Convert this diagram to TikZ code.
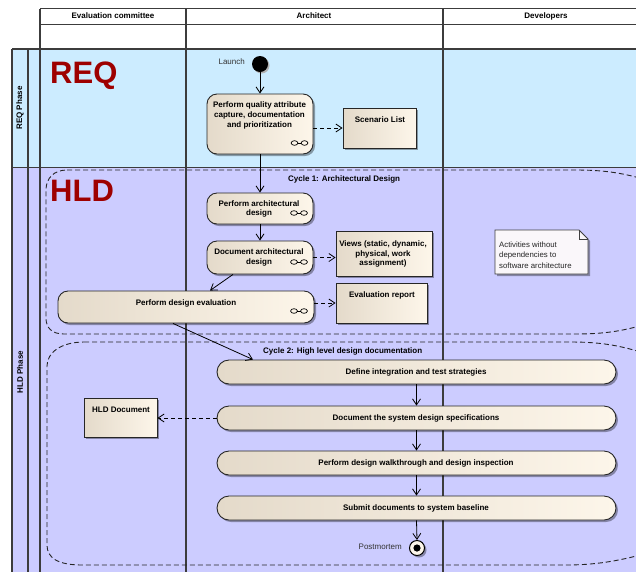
\documentclass[tikz,border=0pt]{standalone}
\usepackage{fontspec}
\setmainfont{Liberation Sans}
\usetikzlibrary{arrows.meta,shadows,calc}

\definecolor{reqband}{HTML}{CCECFF}
\definecolor{hldband}{HTML}{CCCCFF}
\definecolor{phasered}{HTML}{9E0000}
\definecolor{actleft}{HTML}{E4DACA}
\definecolor{actright}{HTML}{FDF6EA}
\definecolor{gridline}{HTML}{3C3C3C}
\definecolor{notefill}{HTML}{FAF7FA}
\definecolor{softtext}{HTML}{333333}

\tikzset{
  grid/.style={draw=gridline, line width=1.2pt},
  shade/.style={drop shadow={shadow xshift=2pt, shadow yshift=-2pt, fill=black, opacity=0.35}},
  act/.style={draw=black!85, line width=0.9pt, rounded corners=10pt,
    left color=actleft, right color=actright, shade, inner sep=0pt},
  pill/.style={act, rounded corners=12pt},
  artifact/.style={draw=black!85, line width=0.9pt, left color=actleft,
    right color=actright, shade, inner sep=0pt},
  lbl/.style={font=\bfseries\fontsize{8}{9.6}\selectfont, align=center, inner sep=0pt},
  plain/.style={font=\fontsize{8}{10.3}\selectfont, text=softtext, inner sep=0pt},
  bigphase/.style={font=\bfseries\fontsize{31}{31}\selectfont, text=phasered, inner sep=0pt, anchor=base west},
  flow/.style={-{Straight Barb[length=6pt,width=8pt]}, line width=0.8pt},
  dep/.style={flow, dash pattern=on 4pt off 3pt},
  region/.style={draw=black!85, line width=0.9pt, dash pattern=on 5pt off 3pt},
  rake/.pic={
    \draw[line width=0.7pt] (-5,0) ellipse (3.4 and 2.3);
    \draw[line width=0.7pt] (5,0) ellipse (3.4 and 2.3);
    \draw[line width=0.7pt] (-1.6,0) -- (1.6,0);
  }
}

\begin{document}
\begin{tikzpicture}[x=1pt, y=-1pt]
\useasboundingbox (0,0) rectangle (636,571);
\begin{scope}
\clip (0,0) rectangle (636,571);

% phase bands
\fill[reqband] (12,49) rectangle (640,167);
\fill[hldband] (12,167) rectangle (640,575);

% swimlane grid
\draw[grid] (40,8.5) -- (640,8.5);
\draw[grid] (40,24.5) -- (640,24.5);
\draw[grid] (12,49) -- (640,49);
\draw[grid, line width=1.8pt] (12,167.5) -- (640,167.5);
\draw[grid] (12,49) -- (12,575);
\draw[grid] (28,49) -- (28,575);
\draw[grid] (40,8.5) -- (40,575);
\draw[grid] (186,8.5) -- (186,575);
\draw[grid] (443,8.5) -- (443,575);

% lane headers
\node[lbl] (hEval) at (113,16) {Evaluation committee};
\node[lbl] (hArch) at (314,16) {Architect};
\node[lbl] (hDev) at (546,16) {Developers};

% phase labels
\node[lbl, rotate=90] (pReq) at (20,108) {REQ Phase};
\node[lbl, rotate=90] (pHld) at (20,372) {HLD Phase};
\node[bigphase] (tReq) at (50,83) {REQ};
\node[bigphase] (tHld) at (50,201) {HLD};

% iteration regions
\draw[region] (67,170) -- (575,170) .. controls (610,170) and (630,174) .. (665,186)
  (665,318) .. controls (630,330) and (610,334) .. (575,334) -- (64,334)
  .. controls (52,334) and (46,328) .. (46,318) -- (46,190)
  .. controls (46,178) and (54,170) .. (67,170);
\node[lbl, anchor=west] (cyc1) at (288,179) {Cycle 1: Architectural Design};

\draw[region] (84,342) -- (570,342) .. controls (605,342) and (625,346) .. (665,360)
  (665,548) .. controls (625,560) and (600,565) .. (565,565) -- (82,565)
  .. controls (58,565) and (47,558) .. (47,545) -- (47,366)
  .. controls (47,352) and (62,342) .. (84,342);
\node[lbl, anchor=west] (cyc2) at (263,351) {Cycle 2: High level design documentation};

% start node
\fill[black!30] (261.5,65.5) circle (8);
\fill[black] (260,64) circle (8);
\node[circle, minimum size=16pt, inner sep=0pt] (launch) at (260,64) {};
\node[plain, anchor=east] (launchTxt) at (245,62) {Launch};

% requirement phase
\node[act, minimum width=106pt, minimum height=60pt] (a1) at (260,124) {};
\node[lbl] at (259.5,115.5) {Perform quality attribute\\capture, documentation\\and prioritization};
\pic at (299.5,143) {rake};

\node[artifact, minimum width=73pt, minimum height=40pt] (scen) at (379.5,128) {};
\node[lbl] at (380,120) {Scenario List};

% cycle 1
\node[act, minimum width=106pt, minimum height=31pt] (pad) at (260,208.5) {};
\node[lbl] at (259,209) {Perform architectural\\design};
\pic at (299,213) {rake};

\node[act, minimum width=106pt, minimum height=33pt] (dad) at (260,257.5) {};
\node[lbl] at (259,257.5) {Document architectural\\design};
\pic at (299,262) {rake};

\node[act, minimum width=256pt, minimum height=32pt] (pde) at (186,307) {};
\node[lbl] at (186,303) {Perform design evaluation};
\pic at (299,311) {rake};

\node[artifact, minimum width=96pt, minimum height=45pt] (views) at (384,253.5) {};
\node[lbl] at (383,254) {Views (static, dynamic,\\physical, work\\assignment)};

\node[artifact, minimum width=91pt, minimum height=40pt] (evalrep) at (381.5,303) {};
\node[lbl] at (382,295) {Evaluation report};

% note in the developers lane
\draw[draw=black!75, line width=0.8pt, fill=notefill, shade]
  (495,230) -- (579,230) -- (588,239) -- (588,274) -- (495,274) -- cycle;
\draw[draw=black!75, line width=0.8pt] (579,230) -- (579,239) -- (588,239);
\node[minimum width=93pt, minimum height=44pt, inner sep=0pt] (note) at (541.5,252) {};
\node[plain, text=black!85, font=\fontsize{7.8}{10.4}\selectfont, align=left, anchor=north west]
  at (499,241.5) {Activities without\\dependencies to\\software architecture};

% cycle 2
\node[pill, minimum width=399pt, minimum height=24pt] (dits) at (416.5,372) {};
\node[lbl] at (416,372) {Define integration and test strategies};
\node[pill, minimum width=399pt, minimum height=24pt] (dsd) at (416.5,418) {};
\node[lbl] at (416,418) {Document the system design specifications};
\node[pill, minimum width=399pt, minimum height=24pt] (walk) at (416.5,463) {};
\node[lbl] at (416,463) {Perform design walkthrough and design inspection};
\node[pill, minimum width=399pt, minimum height=24pt] (subm) at (416.5,508) {};
\node[lbl] at (416,508) {Submit documents to system baseline};

\node[artifact, minimum width=73pt, minimum height=39pt] (hld) at (120.5,417.5) {};
\node[lbl] at (121,410) {HLD Document};

% final node
\node[circle, draw=black, line width=1pt, fill=actright, minimum size=15pt, inner sep=0pt, shade] (final) at (417,548) {};
\fill[black] (final.center) circle (3.6);
\node[plain, anchor=east] (postTxt) at (402,547) {Postmortem};

% control flow
\draw[flow] (launch) -- (a1.north);
\draw[flow] (a1.south) -- (pad.north);
\draw[flow] (pad.south) -- (dad.north);
\draw[flow] ($(dad.south)+(-27,0)$) -- ($(pde.north)+(24,0)$);
\draw[flow] ($(pde.south)+(-13,0)$) -- ($(dits.north)+(-163.5,0)$);
\draw[flow] (dits.south) -- (dsd.north);
\draw[flow] (dsd.south) -- (walk.north);
\draw[flow] (walk.south) -- (subm.north);
\draw[flow] (subm.south) -- (final.north);

% object flows
\draw[dep] (a1.east |- scen.west) -- (scen.west);
\draw[dep] (dad.east) -- (dad.east -| views.west);
\draw[dep] (pde.east |- evalrep.west) -- (evalrep.west);
\draw[dep] (dsd.west) -- (hld.east |- dsd.west);
\end{scope}
\end{tikzpicture}
\end{document}
